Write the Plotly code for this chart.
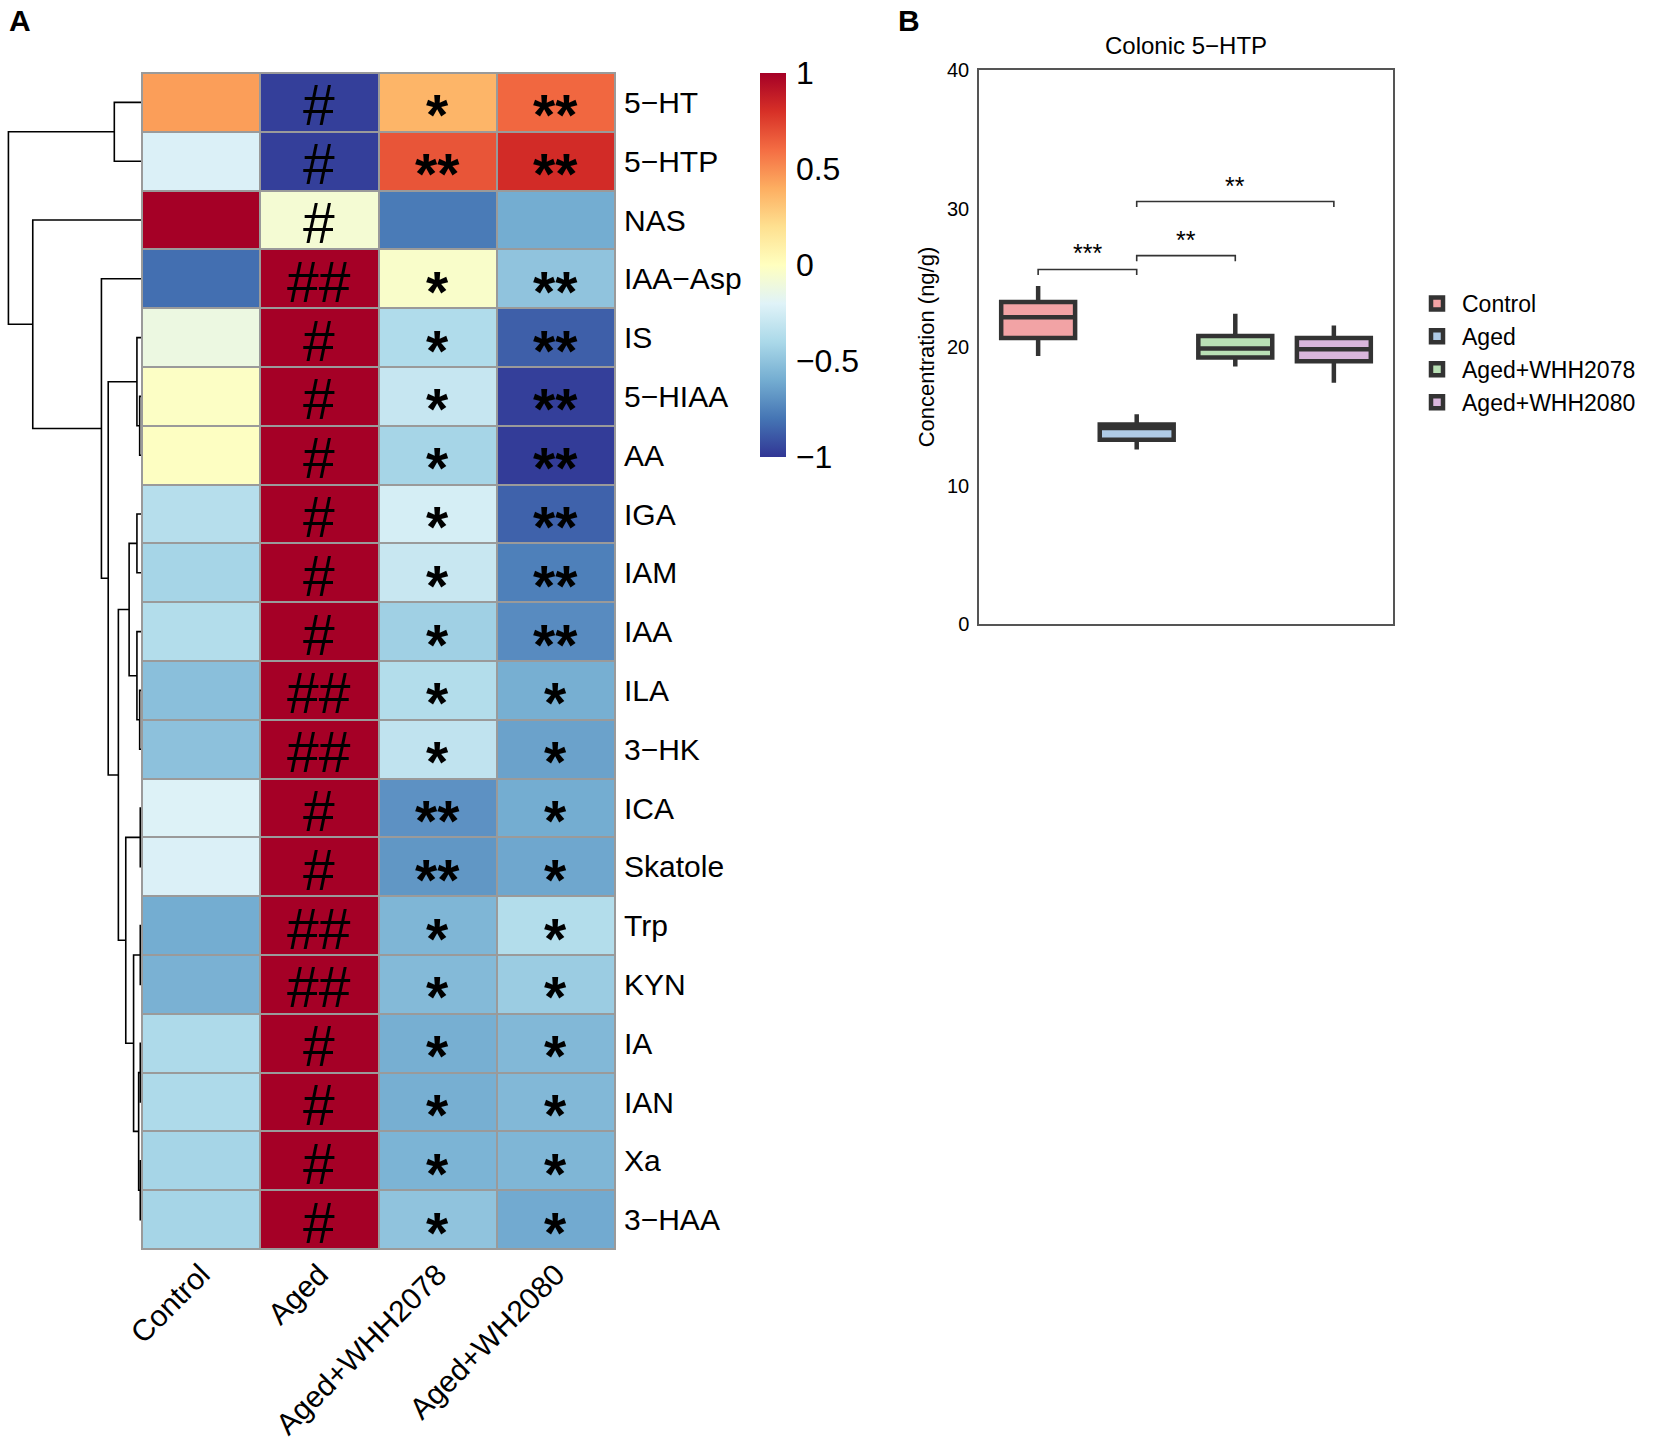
import plotly.graph_objects as go

W, H = 1655, 1442
FONT = "Liberation Sans, Arial, Helvetica, sans-serif"

# ---------------- Panel A data ----------------
columns = ["Control", "Aged", "Aged+WHH2078", "Aged+WH2080"]
rows = ["5−HT", "5−HTP", "NAS", "IAA−Asp", "IS", "5−HIAA", "AA", "IGA", "IAM", "IAA",
        "ILA", "3−HK", "ICA", "Skatole", "Trp", "KYN", "IA", "IAN", "Xa", "3−HAA"]

control_vals = [0.45, -0.22, 1.0, -0.82, -0.12, -0.02, -0.01, -0.36, -0.42, -0.37,
                -0.52, -0.51, -0.21, -0.22, -0.60, -0.58, -0.39, -0.39, -0.42, -0.42]
aged_vals = [-0.97, -0.97, -0.07, 1.0, 1.0, 1.0, 1.0, 1.0, 1.0, 1.0,
             1.0, 1.0, 1.0, 1.0, 1.0, 1.0, 1.0, 1.0, 1.0, 1.0]
whh2078_vals = [0.37, 0.68, -0.78, -0.04, -0.38, -0.30, -0.42, -0.24, -0.29, -0.44,
                -0.37, -0.32, -0.70, -0.68, -0.56, -0.54, -0.59, -0.59, -0.57, -0.50]
wh2080_vals = [0.62, 0.82, -0.60, -0.50, -0.87, -0.97, -0.98, -0.86, -0.76, -0.72,
               -0.59, -0.64, -0.60, -0.62, -0.37, -0.46, -0.55, -0.55, -0.56, -0.61]

control_marks = [""] * 20
aged_marks = ["#", "#", "#", "##", "#", "#", "#", "#", "#", "#",
              "##", "##", "#", "#", "##", "##", "#", "#", "#", "#"]
whh2078_marks = ["*", "**", "", "*", "*", "*", "*", "*", "*", "*",
                 "*", "*", "**", "**", "*", "*", "*", "*", "*", "*"]
wh2080_marks = ["**", "**", "", "**", "**", "**", "**", "**", "**", "**",
                "*", "*", "*", "*", "*", "*", "*", "*", "*", "*"]

# dendrogram merges (left, right, height) ; "mN" refers to merge N
dendro_merges = [
    ("5−HT", "5−HTP", 27.3),      # m0
    ("5−HIAA", "AA", 2.3),        # m1
    ("IS", "m1", 5.0),            # m2
    ("IGA", "IAM", 5.0),          # m3
    ("ILA", "3−HK", 2.3),         # m4
    ("IAA", "m4", 5.0),           # m5
    ("m3", "m5", 12.7),           # m6
    ("ICA", "Skatole", 1.7),      # m7
    ("Trp", "KYN", 1.7),          # m8
    ("IA", "IAN", 1.7),           # m9
    ("Xa", "3−HAA", 1.7),         # m10
    ("m9", "m10", 3.3),           # m11
    ("m8", "m11", 8.3),           # m12
    ("m7", "m12", 16.0),          # m13
    ("m6", "m13", 23.3),          # m14
    ("m2", "m14", 33.3),          # m15
    ("IAA−Asp", "m15", 40.0),     # m16
    ("NAS", "m16", 107.7),        # m17
    ("m0", "m17", 131.7),         # m18
]

# ---------------- Panel B data ----------------
groups = ["Control", "Aged", "Aged+WHH2078", "Aged+WHH2080"]
box_lower = [19.35, 12.6, 18.6, 17.42]
box_q1 = [20.65, 13.3, 19.25, 18.97]
box_median = [22.15, 14.15, 19.9, 19.83]
box_q3 = [23.25, 14.4, 20.8, 20.65]
box_upper = [24.4, 15.15, 22.4, 21.55]
box_colors = ["#F2A3A5", "#AFCBE6", "#B9E0B5", "#D9B6DC"]

comp_pairs = [(0, 1), (1, 2), (1, 3)]
comp_y = [25.6, 26.6, 30.5]
comp_labels = ["***", "**", "**"]

# ---------------- helpers ----------------
def px_x(p):
    return p / W

def px_y(p):
    return 1 - p / H

fig = go.Figure()

# heatmap geometry (pixels)
HM_L, HM_R, HM_T, HM_B = 142, 615, 73, 1249

colorscale = [
    [0.0, "#313695"], [0.1, "#4575b4"], [0.2, "#74add1"], [0.3, "#abd9e9"],
    [0.4, "#e0f3f8"], [0.5, "#ffffbf"], [0.6, "#fee090"], [0.7, "#fdae61"],
    [0.8, "#f46d43"], [0.9, "#d73027"], [1.0, "#a50026"],
]

z = [[control_vals[i], aged_vals[i], whh2078_vals[i], wh2080_vals[i]] for i in range(len(rows))]

# grey backing that shows through the cell gaps (cell borders)
fig.add_shape(type="rect", xref="x domain", yref="y domain", x0=0, x1=1, y0=0, y1=1,
              fillcolor="#9a9a9a", line=dict(width=0), layer="below")

fig.add_trace(go.Heatmap(
    z=z, x=columns, y=rows, colorscale=colorscale, zmin=-1, zmax=1,
    xgap=2, ygap=2, showscale=True, hoverinfo="skip",
    colorbar=dict(
        x=px_x(760), xanchor="left", y=px_y(73), yanchor="top",
        len=384, lenmode="pixels", thickness=26, thicknessmode="pixels",
        outlinewidth=0, ticks="outside", ticklen=4, tickcolor="rgba(0,0,0,0)",
        tickvals=[-1, -0.5, 0, 0.5, 1], xpad=0, ypad=0,
        tickfont=dict(family=FONT, size=32, color="black"),
    ),
    xaxis="x", yaxis="y",
))

# text marks
mark_cols = [control_marks, aged_marks, whh2078_marks, wh2080_marks]
for ci, marks in enumerate(mark_cols):
    for ri, m in enumerate(marks):
        if not m:
            continue
        is_hash = m.startswith("#")
        fig.add_annotation(
            x=columns[ci], y=rows[ri], xref="x", yref="y", text=m, showarrow=False,
            font=(dict(family=FONT, size=57, color="black") if is_hash
                  else dict(family=FONT, size=57, color="black", weight="bold")),
            yshift=(-3 if is_hash else -13),
        )

# dendrogram from merges
leaf_pos = {name: i for i, name in enumerate(rows)}
node_pos = {}
node_h = {}
dx, dy = [], []

def get_node(key):
    if key in leaf_pos:
        return leaf_pos[key], 0.0
    return node_pos[key], node_h[key]

for k, (a, b, h) in enumerate(dendro_merges):
    ya, ha = get_node(a)
    yb, hb = get_node(b)
    dx += [ha, h, h, hb, None]
    dy += [ya, ya, yb, yb, None]
    node_pos["m%d" % k] = (ya + yb) / 2
    node_h["m%d" % k] = h

fig.add_trace(go.Scatter(
    x=dx, y=dy, mode="lines", line=dict(color="black", width=1.6),
    xaxis="x2", yaxis="y2", showlegend=False, hoverinfo="skip",
))

# ---------------- Panel B ----------------
for i, g in enumerate(groups):
    fig.add_trace(go.Box(
        x=[g], q1=[box_q1[i]], median=[box_median[i]], q3=[box_q3[i]],
        lowerfence=[box_lower[i]], upperfence=[box_upper[i]],
        name=g, fillcolor=box_colors[i], line=dict(color="#333333", width=4.5),
        width=0.75, whiskerwidth=0, boxpoints=False, hoverinfo="skip",
        xaxis="x3", yaxis="y3", showlegend=True,
    ))

bx, by = [], []
for (a, b), yv in zip(comp_pairs, comp_y):
    bx += [groups[a], groups[a], groups[b], groups[b], None]
    by += [yv - 0.4, yv, yv, yv - 0.4, None]
fig.add_trace(go.Scatter(
    x=bx, y=by, mode="lines", line=dict(color="#333333", width=1.6),
    xaxis="x3", yaxis="y3", showlegend=False, hoverinfo="skip",
))
for (a, b), yv, lab in zip(comp_pairs, comp_y, comp_labels):
    fig.add_annotation(
        x=(a + b) / 2, y=yv, xref="x3", yref="y3", text=lab, showarrow=False,
        yanchor="bottom", yshift=0, font=dict(family=FONT, size=25, color="black"),
    )

# titles / panel labels
fig.add_annotation(x=px_x(1186), y=px_y(46), xref="paper", yref="paper",
                   xanchor="center", yanchor="middle",
                   text="Colonic 5−HTP", showarrow=False,
                   font=dict(family=FONT, size=24, color="black"))
fig.add_annotation(x=px_x(20), y=px_y(21), xref="paper", yref="paper", text="<b>A</b>",
                   xanchor="center", yanchor="middle",
                   showarrow=False, font=dict(family=FONT, size=30, color="black"))
fig.add_annotation(x=px_x(909), y=px_y(21), xref="paper", yref="paper", text="<b>B</b>",
                   xanchor="center", yanchor="middle",
                   showarrow=False, font=dict(family=FONT, size=30, color="black"))

fig.update_layout(
    width=W, height=H, margin=dict(l=0, r=0, t=0, b=0, autoexpand=False),
    paper_bgcolor="white", plot_bgcolor="white",
    font=dict(family=FONT, color="black"),
    boxmode="overlay",
    xaxis=dict(domain=[px_x(HM_L), px_x(HM_R)], anchor="y", side="bottom",
               tickangle=-45, ticks="", showgrid=False, zeroline=False, automargin=False,
               tickfont=dict(family=FONT, size=30, color="black"),
               categoryorder="array", categoryarray=columns, ticklabelstandoff=1),
    yaxis=dict(domain=[px_y(HM_B), px_y(HM_T)], anchor="x", side="right",
               range=[len(rows) - 0.5, -0.5], ticks="", showgrid=False, zeroline=False,
               automargin=False,
               tickfont=dict(family=FONT, size=30, color="black"),
               categoryorder="array", categoryarray=rows, ticklabelstandoff=8),
    xaxis2=dict(domain=[0, px_x(HM_L)], anchor="y2", range=[140, 0],
                visible=False, showgrid=False, zeroline=False),
    yaxis2=dict(domain=[px_y(HM_B), px_y(HM_T)], anchor="x2",
                range=[len(rows) - 0.5, -0.5], visible=False, showgrid=False, zeroline=False),
    xaxis3=dict(domain=[px_x(979), px_x(1393)], anchor="y3", range=[-0.6, 3.6],
                type="category", categoryorder="array", categoryarray=groups,
                showticklabels=False, ticks="", showgrid=False, zeroline=False,
                showline=True, mirror=True, linecolor="#555555", linewidth=1.5),
    yaxis3=dict(domain=[px_y(624), px_y(70)], anchor="x3", range=[0, 40],
                tickvals=[0, 10, 20, 30, 40], ticks="", showgrid=False, zeroline=False,
                showline=True, mirror=True, linecolor="#555555", linewidth=1.5,
                automargin=False,
                tickfont=dict(family=FONT, size=20, color="black"), ticklabelstandoff=4,
                title=dict(text="Concentration (ng/g)", standoff=6,
                           font=dict(family=FONT, size=22, color="black"))),
    legend=dict(x=px_x(1412), xanchor="left", y=px_y(282), yanchor="top",
                font=dict(family=FONT, size=23, color="black"),
                bgcolor="rgba(0,0,0,0)", tracegroupgap=0, itemwidth=40),
)

# outer border of heatmap
fig.add_shape(type="rect", xref="x domain", yref="y domain", x0=0, x1=1, y0=0, y1=1,
              line=dict(color="#9a9a9a", width=2), fillcolor="rgba(0,0,0,0)")

fig.write_html("out.html", config={"displayModeBar": False},
               post_script="document.body.style.margin='0px';document.body.style.overflow='hidden';")
